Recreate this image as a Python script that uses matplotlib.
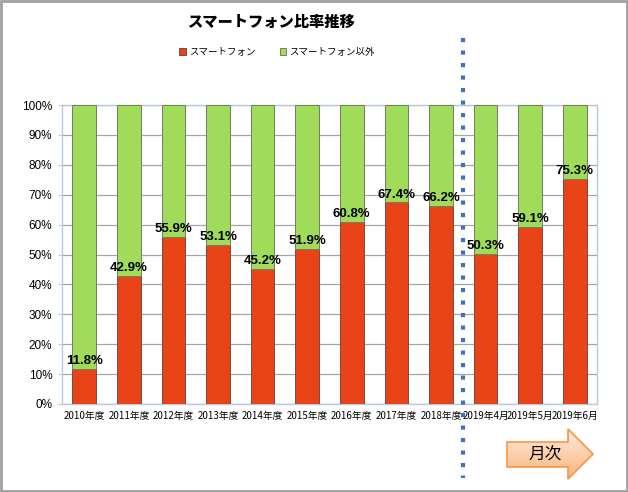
import numpy as np
import matplotlib.pyplot as plt
from matplotlib.patches import Polygon, Rectangle

plt.rcParams['font.family'] = ['Noto Sans CJK JP', 'DejaVu Sans']

# データ
categories = ['2010年度', '2011年度', '2012年度', '2013年度', '2014年度', '2015年度',
              '2016年度', '2017年度', '2018年度', '2019年4月', '2019年5月', '2019年6月']
smartphone = [11.8, 42.9, 55.9, 53.1, 45.2, 51.9, 60.8, 67.4, 66.2, 50.3, 59.1, 75.3]
others = [100 - v for v in smartphone]

red = '#E84418'
green = '#A0DC5A'

fig = plt.figure(figsize=(6.28, 4.92), dpi=100)
ax = fig.add_axes([62 / 628, 88 / 492, 535 / 628, 299 / 492])

x = np.arange(len(categories))
ax.bar(x, smartphone, width=0.53, color=red, edgecolor='#7a4a40', linewidth=0.7,
       label='スマートフォン', zorder=3)
ax.bar(x, others, bottom=smartphone, width=0.53, color=green, edgecolor='#6f7f60',
       linewidth=0.7, label='スマートフォン以外', zorder=3)

for xi, v in zip(x, smartphone):
    ax.text(xi, v + 0.6, f'{v:.1f}%', ha='center', va='bottom', fontsize=9.5,
            fontweight='bold', family=['Liberation Sans', 'DejaVu Sans'], zorder=5)

ax.set_xlim(-0.5, len(categories) - 0.5)
ax.set_ylim(0, 100)
ax.set_yticks(np.arange(0, 101, 10))
ax.set_yticklabels([f'{t}%' for t in range(0, 101, 10)], fontsize=8.5,
                   family=['Liberation Sans', 'DejaVu Sans'])
ax.set_xticks(x)
ax.set_xticklabels(categories, fontsize=7)
ax.tick_params(axis='y', length=3, color='#b9c9e0', pad=4)
ax.tick_params(axis='x', length=0, pad=5)
ax.yaxis.grid(True, color='#a6a6a6', linewidth=0.9, zorder=0)
ax.set_axisbelow(True)
for s in ax.spines.values():
    s.set_color('#b9c9e0')
    s.set_linewidth(1)

# 凡例
leg = fig.legend(loc='center', bbox_to_anchor=(277 / 628, 1 - 52 / 492), ncol=2,
                 frameon=False, fontsize=6.8, handlelength=0.7, handleheight=0.7,
                 handletextpad=0.3, columnspacing=2.6, borderaxespad=0)

fig.text(271 / 628, 1 - 22 / 492, 'スマートフォン比率推移', ha='center', va='center',
         fontsize=11, fontweight='black')

# 矢印・点線・枠は重ねた座標系 (ピクセル) で描く
ov = fig.add_axes([0, 0, 1, 1], facecolor='none')
ov.set_xlim(0, 628)
ov.set_ylim(492, 0)
ov.axis('off')

# 点線 (年度と月次の区切り)
ov.plot([462.5, 462.5], [38, 478], color='#3b73bf', linewidth=3,
        linestyle=(0, (1, 2)), dash_capstyle='butt', zorder=6)

# 矢印
pts = [(507, 442), (568, 442), (568, 429), (593, 454), (568, 479), (568, 467), (507, 467)]
arrow = Polygon(pts, closed=True, facecolor='none', edgecolor='#f79646', linewidth=1.2,
                zorder=3)
ov.add_patch(arrow)
grad = np.linspace(0, 1, 100).reshape(-1, 1)
top = np.array([253, 236, 222]) / 255
bot = np.array([250, 180, 125]) / 255
img = top + (bot - top) * grad[:, :, None]
im = ov.imshow(img, extent=(507, 593, 479, 429), aspect='auto', zorder=2)
im.set_clip_path(arrow)
ov.text(545, 455, '月次', ha='center', va='center', fontsize=12, zorder=4)

# 枠
ov.add_patch(Rectangle((1, 1), 626, 490, facecolor='none', edgecolor='#a0a0a0',
                       linewidth=2, zorder=10))

fig.savefig('out.png', dpi=100)
